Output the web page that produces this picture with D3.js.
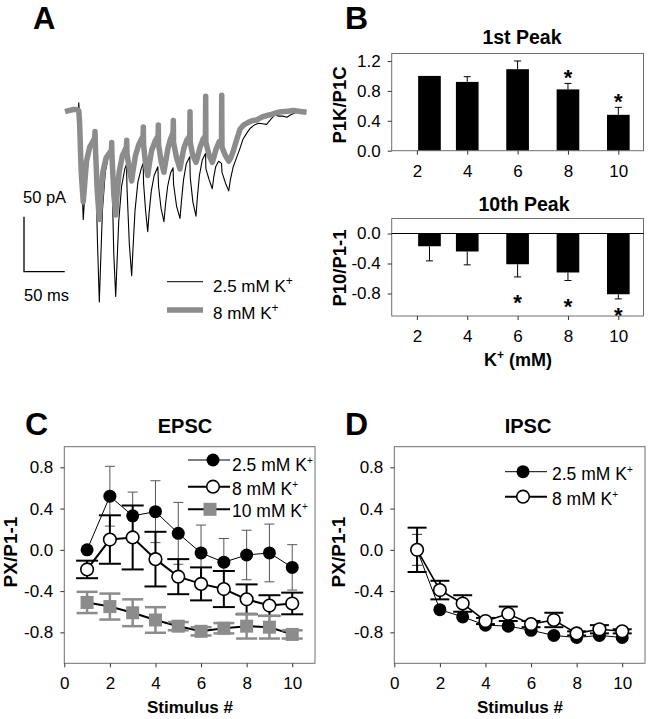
<!DOCTYPE html>
<html><head><meta charset="utf-8">
<script src="https://cdn.jsdelivr.net/npm/d3@7"></script>
<style>body{margin:0;background:#fff} svg text{font-family:"Liberation Sans",Arial,Helvetica,sans-serif}</style>
</head><body><svg id="fig" width="648" height="719"></svg>
<script>
// ================= DATA =================
// Panel A: example traces [time (ms), current (pA)]
const traceLowK = [
[-18,0],[-10,1],[-4,1],[-2,1],[-1.5,8],[-1,0],[1,-40],[4,-98],[5.5,-80],[8,-52],[12,-35],[17.5,-25],
[18.4,-20],[19,-45],[21.5,-120],[23.7,-173],[25.2,-140],[27.5,-90],[31,-55],[35,-40],[38.5,-33],
[39.3,-60],[41.5,-130],[43.8,-168],[45.3,-140],[47.5,-100],[51,-68],[55,-52],[57,-48],
[57.7,-70],[60.5,-120],[63.4,-149],[65,-125],[67.5,-90],[71,-64],[75,-52],[77.5,-47],
[78,-65],[80.5,-90],[83.1,-109],[84.8,-92],[87.5,-72],[91,-58],[95.5,-50],
[96.4,-68],[99.5,-88],[103,-100],[104.7,-86],[107.5,-68],[111,-56],[114.2,-51],
[114.8,-66],[118.5,-86],[122.7,-97],[124.4,-82],[127,-62],[130.5,-47],[134.7,-41],
[135.3,-60],[138.5,-82],[142.3,-95],[144,-78],[146.5,-58],[150,-44],[154,-38],
[154.5,-52],[158.5,-62],[162.3,-70],[164,-60],[166.5,-50],[170,-45],[173.7,-47],
[174.2,-55],[178.5,-65],[182.5,-72],[184.5,-62],[188,-50],[192,-42],[196,-34],[200,-25],[205,-19],[209,-15],
[214,-12],[219,-10.5],[224,-11],[229,-11.5],[234,-7],[239,-3],[244,-4],[249,-4],[254,-5],[258,-3],[264,-1],[270,0],[277,0]
];
const traceHighK = [
[-18.4,0],[-14,1],[-8,2],[-4,2],[-1.5,1],
[-0.5,-10],[1.5,-55],[4,-82],[5.5,-68],[8,-45],[12,-32],[17.5,-25],
[18.2,-24],[18.4,-18],[18.8,-30],[21,-70],[23.7,-98],[25.3,-80],[28,-55],[32,-42],[38.5,-35],
[38.7,-34],[38.9,-28],[39.2,-40],[41.5,-75],[43.8,-94],[45.5,-75],[48,-55],[52,-40],[57,-32],
[57.3,-26],[57.6,-38],[60.5,-52],[63.4,-63],[65,-54],[68,-40],[72,-30],[77.4,-22],
[77.7,-14],[78,-30],[80.5,-48],[83.1,-58],[85,-48],[88,-35],[92,-27],[95.8,-22],
[96.1,-12],[96.4,-30],[99.5,-45],[103,-55],[105,-46],[108,-33],[111,-25],[114.2,-19],
[114.5,-8],[114.8,-28],[118.5,-42],[122.7,-52],[124.5,-44],[127.5,-33],[131,-26],[134.7,-22],
[135,0],[135.3,-28],[138.5,-40],[142.3,-46],[144,-42],[147,-33],[151,-25],[153.9,-22],
[154.2,14],[154.5,-28],[158.5,-40],[162.3,-46],[164,-42],[167,-34],[171,-27],[173.6,-27],
[173.9,15],[174.2,-32],[178.5,-40],[182.5,-45],[185,-42],[188,-36],[192,-26],[196.3,-16],[201,-12],
[207,-9.5],[212,-8],[217,-7.5],[223,-5],[229,-3.5],[235,-2.5],[241,-1],[247,0],[255,0.5],[262,1],[268,0.5],[273,0],[278,-0.5]
];
const scaleBarPA = 50, scaleBarMs = 50;
const traceLabels = ["2.5 mM ", "8 mM "];

// Panel B
const kConc = [2.5, 4, 6, 8, 10];
const kTicks = [2, 4, 6, 8, 10];
const peak1Ratio = [1.00, 0.92, 1.09, 0.82, 0.48];
const peak1Err   = [0, 0.07, 0.11, 0.08, 0.10];
const peak1Sig   = [false, false, false, true, true];
const peak10Ratio = [-0.17, -0.24, -0.41, -0.52, -0.81];
const peak10Err   = [0.195, 0.178, 0.169, 0.107, 0.062];
const peak10Sig   = [false, false, true, true, true];
const b1Ticks = [0, 0.4, 0.8, 1.2];
const b2Ticks = [-0.8, -0.4, 0];

// Panels C & D
const stimulus = [1, 2, 3, 4, 5, 6, 7, 8, 9, 10];
const stimTicks = [0, 2, 4, 6, 8, 10];
const pxTicks = [-0.8, -0.4, 0, 0.4, 0.8];
const epsc25 = [0.00, 0.52, 0.33, 0.37, 0.16, -0.03, -0.12, -0.05, -0.03, -0.17];
const epsc25Err = [0, 0.29, 0.23, 0.30, 0.30, 0.27, 0.23, 0.24, 0.28, 0.22];
const epsc8 = [-0.19, 0.10, 0.12, -0.09, -0.26, -0.33, -0.38, -0.48, -0.54, -0.52];
const epsc8Err = [0.085, 0.235, 0.31, 0.265, 0.17, 0.16, 0.175, 0.145, 0.10, 0.105];
const epsc10 = [-0.51, -0.55, -0.61, -0.68, -0.74, -0.79, -0.76, -0.74, -0.75, -0.82];
const epsc10Err = [0.103, 0.126, 0.13, 0.124, 0.04, 0.04, 0.05, 0.12, 0.11, 0.04];
const ipsc25 = [0.00, -0.58, -0.65, -0.73, -0.74, -0.78, -0.83, -0.85, -0.83, -0.85];
const ipsc25Err = [0.15, 0.03, 0.03, 0.03, 0.03, 0.03, 0.03, 0.03, 0.03, 0.03];
const ipsc8 = [0.00, -0.39, -0.52, -0.69, -0.62, -0.72, -0.68, -0.81, -0.77, -0.79];
const ipsc8Err = [0.215, 0.09, 0.08, 0.03, 0.07, 0.03, 0.07, 0.02, 0.04, 0.02];

// ================= DRAWING =================
const FF = '"Liberation Sans", Arial, Helvetica, sans-serif';
const GRAY = "#8c8c8c";
const svg = d3.select("#fig");

function addText(g, s, x, y, o = {}) {
  const t = g.append("text").attr("x", x).attr("y", y)
    .attr("font-size", o.size || 17)
    .attr("font-weight", o.bold ? "bold" : "normal")
    .attr("text-anchor", o.anchor || "start")
    .attr("fill", "#000");
  if (o.rotate) t.attr("transform", `rotate(-90,${x},${y})`);
  t.text(s);
  return t;
}
function addKText(g, pre, post, x, y, o = {}) {
  const t = g.append("text").attr("x", x).attr("y", y)
    .attr("font-size", o.size || 17)
    .attr("font-weight", o.bold ? "bold" : "normal")
    .attr("text-anchor", o.anchor || "start").attr("fill", "#000");
  t.append("tspan").text(pre + "K");
  t.append("tspan").attr("font-size", o.supSize || 11).attr("dy", -(o.raise || 7)).text("+");
  if (post) t.append("tspan").attr("dy", (o.raise || 7)).text(post);
  return t;
}
function frame(g, x, y, xt, yt, xfmt, yfmt) {
  const [x0, x1] = x.range(); const [y0, y1] = y.range();
  g.append("rect").attr("x", x0).attr("y", y1).attr("width", x1 - x0).attr("height", y0 - y1)
    .attr("fill", "none").attr("stroke", "#6e6e6e").attr("stroke-width", 1);
  const ax = g.append("g").attr("transform", `translate(0,${y0})`)
    .call(d3.axisBottom(x).tickValues(xt).tickSize(4).tickPadding(10).tickFormat(xfmt));
  const ay = g.append("g").attr("transform", `translate(${x0},0)`)
    .call(d3.axisLeft(y).tickValues(yt).tickSize(4).tickPadding(7).tickFormat(yfmt));
  [ax, ay].forEach(a => {
    a.select(".domain").remove();
    a.attr("font-family", FF).attr("font-size", 17);
    a.selectAll("line").attr("stroke", "#333");
    a.selectAll("text").attr("fill", "#000");
  });
}
const f1 = v => v.toFixed(1);
const f0 = v => String(v);

// ---------- Panel A ----------
const gA = svg.append("g");
addText(gA, "A", 33, 29, {size: 31, bold: true});
const xA = d3.scaleLinear().domain([0, 100]).range([80, 161.5]);
const yA = d3.scaleLinear().domain([0, -100]).range([111.7, 221.7]);
const lineA = d3.line().x(d => xA(d[0])).y(d => yA(d[1]));
gA.append("path").datum(traceLowK).attr("d", lineA).attr("fill", "none")
  .attr("stroke", "#000").attr("stroke-width", 1.1).attr("stroke-linejoin", "round");
gA.append("path").datum(traceHighK).attr("d", lineA).attr("fill", "none")
  .attr("stroke", GRAY).attr("stroke-width", 5.5).attr("stroke-linejoin", "round");
// scale bar
const sb = {x: 24, y: 271.7};
const sbW = xA(scaleBarMs) - xA(0), sbH = yA(-scaleBarPA) - yA(0);
gA.append("path").attr("d", `M${sb.x},${sb.y - sbH}V${sb.y}H${sb.x + sbW}`)
  .attr("fill", "none").attr("stroke", "#000").attr("stroke-width", 1.3);
addText(gA, scaleBarPA + " pA", 23, 203, {size: 16.5});
addText(gA, scaleBarMs + " ms", 24, 300.5, {size: 16.5});
// legend
gA.append("line").attr("x1", 167).attr("x2", 203).attr("y1", 281.7).attr("y2", 281.7).attr("stroke", "#000").attr("stroke-width", 1);
gA.append("line").attr("x1", 167).attr("x2", 203).attr("y1", 310).attr("y2", 310).attr("stroke", GRAY).attr("stroke-width", 5.5);
addKText(gA, traceLabels[0], null, 213, 291.5, {size: 17, supSize: 12, raise: 7});
addKText(gA, traceLabels[1], null, 213, 318.5, {size: 17, supSize: 12, raise: 7});

// ---------- Panel B ----------
const gB = svg.append("g");
addText(gB, "B", 345, 29, {size: 32, bold: true});
const xB = d3.scaleLinear().domain([1, 11]).range([391.7, 643.5]);
const yB1 = d3.scaleLinear().domain([0, 1.3]).range([150.7, 53.5]);
const yB2 = d3.scaleLinear().domain([-1.1, 0.2]).range([316, 218.5]);
const barW = 0.9;
const bw = xB(barW) - xB(0);
const capB = 7;
function starAt(g, x, yc) {
  g.append("text").attr("x", x).attr("y", yc + 12.5).attr("text-anchor", "middle")
    .attr("font-size", 22).attr("font-weight", "bold").attr("fill", "#000").text("*");
}
// top bars
kConc.forEach((k, i) => {
  const v = peak1Ratio[i], e = peak1Err[i];
  if (e > 0) {
    gB.append("line").attr("x1", xB(k)).attr("x2", xB(k)).attr("y1", yB1(v)).attr("y2", yB1(v + e)).attr("stroke", "#000");
    gB.append("line").attr("x1", xB(k) - capB / 2).attr("x2", xB(k) + capB / 2).attr("y1", yB1(v + e)).attr("y2", yB1(v + e)).attr("stroke", "#000");
  }
  gB.append("rect").attr("x", xB(k) - bw / 2).attr("width", bw)
    .attr("y", yB1(v)).attr("height", yB1(0) - yB1(v)).attr("fill", "#000");
  if (peak1Sig[i]) starAt(gB, xB(k), yB1(v + e + 0.14));
});
frame(gB, xB, yB1, kTicks, b1Ticks, f0, f1);
addText(gB, "1st Peak", 522, 44, {size: 19.5, bold: true, anchor: "middle"});
addText(gB, "P1K/P1C", 346, 105, {size: 18.5, bold: true, anchor: "middle", rotate: true});
// bottom bars
kConc.forEach((k, i) => {
  const v = peak10Ratio[i], e = peak10Err[i];
  gB.append("line").attr("x1", xB(k)).attr("x2", xB(k)).attr("y1", yB2(v)).attr("y2", yB2(v - e)).attr("stroke", "#000");
  gB.append("line").attr("x1", xB(k) - capB / 2).attr("x2", xB(k) + capB / 2).attr("y1", yB2(v - e)).attr("y2", yB2(v - e)).attr("stroke", "#000");
  gB.append("rect").attr("x", xB(k) - bw / 2).attr("width", bw)
    .attr("y", yB2(0)).attr("height", yB2(v) - yB2(0)).attr("fill", "#000");
  if (peak10Sig[i]) starAt(gB, xB(k), yB2(Math.max(v - e - 0.28, -1.03)));
});
frame(gB, xB, yB2, kTicks, b2Ticks, f0, f1);
gB.append("line").attr("x1", xB.range()[0]).attr("x2", xB.range()[1]).attr("y1", yB2(0)).attr("y2", yB2(0)).attr("stroke", "#000");
addText(gB, "10th Peak", 524, 210.7, {size: 19.5, bold: true, anchor: "middle"});
addText(gB, "P10/P1-1", 346, 268, {size: 18.5, bold: true, anchor: "middle", rotate: true});
addKText(gB, "", " (mM)", 518, 366, {size: 18, bold: true, anchor: "middle", supSize: 12, raise: 7});

// ---------- Panels C & D ----------
function series(g, x, y, vals, errs, o) {
  const pts = stimulus.map((s, i) => ({s, v: vals[i], e: errs[i]}));
  g.append("path").datum(pts).attr("d", d3.line().x(d => x(d.s)).y(d => y(d.v)))
    .attr("fill", "none").attr("stroke", "#000").attr("stroke-width", o.lineW);
  pts.filter(d => d.e > 0).forEach(d => {
    const X = x(d.s);
    g.append("line").attr("x1", X).attr("x2", X).attr("y1", y(d.v - d.e)).attr("y2", y(d.v + d.e))
      .attr("stroke", o.errColor).attr("stroke-width", o.errW);
    [d.v - d.e, d.v + d.e].forEach(yy => g.append("line")
      .attr("x1", X - o.cap / 2).attr("x2", X + o.cap / 2).attr("y1", y(yy)).attr("y2", y(yy))
      .attr("stroke", o.errColor).attr("stroke-width", o.errW));
  });
  pts.forEach(d => marker(g, x(d.s), y(d.v), o.marker));
}
function marker(g, X, Y, type) {
  if (type === "filled") g.append("circle").attr("cx", X).attr("cy", Y).attr("r", 6.5).attr("fill", "#000");
  else if (type === "open") g.append("circle").attr("cx", X).attr("cy", Y).attr("r", 6.3).attr("fill", "#fff").attr("stroke", "#000").attr("stroke-width", 1.6);
  else g.append("rect").attr("x", X - 6.5).attr("y", Y - 6.5).attr("width", 13).attr("height", 13).attr("fill", GRAY);
}
function legendRow(g, x0, x1, xm, xt, yl, yt, type, lw, label) {
  g.append("line").attr("x1", x0).attr("x2", x1).attr("y1", yl).attr("y2", yl).attr("stroke", "#000").attr("stroke-width", lw);
  marker(g, xm, yl, type);
  addKText(g, label, null, xt, yt, {size: 17.5, supSize: 10, raise: 7});
}
const styles = {
  s25: {lineW: 1, errColor: "#555", errW: 1, cap: 10, marker: "filled"},
  s8:  {lineW: 2, errColor: "#000", errW: 2, cap: 22, marker: "open"},
  s10: {lineW: 2, errColor: GRAY, errW: 2.5, cap: 21, marker: "square"},
  d25: {lineW: 1, errColor: "#333", errW: 1, cap: 10, marker: "filled"},
  d8:  {lineW: 1.6, errColor: "#000", errW: 2, cap: 19, marker: "open"}
};

// Panel C
const gC = svg.append("g");
const xC = d3.scaleLinear().domain([0, 11]).range([64.3, 315]);
const yC = d3.scaleLinear().domain([-1.1, 1.0]).range([663.3, 446.7]);
addText(gC, "C", 25, 435, {size: 32, bold: true});
addText(gC, "EPSC", 185, 433, {size: 20, bold: true, anchor: "middle"});
series(gC, xC, yC, epsc25, epsc25Err, styles.s25);
series(gC, xC, yC, epsc8, epsc8Err, styles.s8);
series(gC, xC, yC, epsc10, epsc10Err, styles.s10);
frame(gC, xC, yC, stimTicks, pxTicks, f0, f1);
addText(gC, "PX/P1-1", 17, 552, {size: 19, bold: true, anchor: "middle", rotate: true});
addText(gC, "Stimulus #", 190, 713, {size: 17, bold: true, anchor: "middle"});
legendRow(gC, 188, 230, 213, 232, 460, 470.5, "filled", 1, "2.5 mM ");
legendRow(gC, 188, 230, 213, 232, 486.7, 495, "open", 2, "8 mM ");
legendRow(gC, 188, 230, 210, 232, 509.3, 517, "square", 2, "10 mM ");

// Panel D
const gD = svg.append("g");
const xD = d3.scaleLinear().domain([0, 11]).range([394.3, 645]);
const yD = yC.copy();
addText(gD, "D", 345, 435, {size: 32, bold: true});
addText(gD, "IPSC", 528, 433, {size: 20, bold: true, anchor: "middle"});
series(gD, xD, yD, ipsc25, ipsc25Err, styles.d25);
series(gD, xD, yD, ipsc8, ipsc8Err, styles.d8);
frame(gD, xD, yD, stimTicks, pxTicks, f0, f1);
addText(gD, "PX/P1-1", 345, 552, {size: 19, bold: true, anchor: "middle", rotate: true});
addText(gD, "Stimulus #", 520, 713, {size: 17, bold: true, anchor: "middle"});
legendRow(gD, 505, 547, 523, 552, 471.7, 480, "filled", 1, "2.5 mM ");
legendRow(gD, 505, 547, 523, 552, 496.7, 505, "open", 2, "8 mM ");
</script></body></html>
